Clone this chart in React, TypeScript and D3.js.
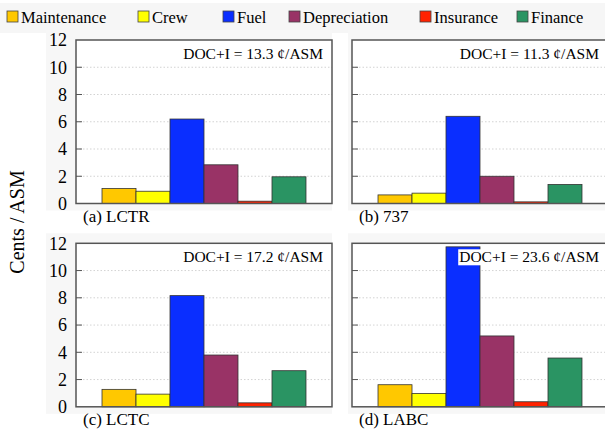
import { useEffect, useRef } from "react";
import * as d3 from "d3";

// categories and colours
const categories = ["Maintenance", "Crew", "Fuel", "Depreciation", "Insurance", "Finance"];
const colors = ["#FFC800", "#FFFF00", "#0A2EFF", "#993366", "#FF2200", "#2A9463"];

// values per panel (cents / ASM)
const lctr = [1.1, 0.9, 6.2, 2.84, 0.17, 1.96];
const b737 = [0.63, 0.76, 6.4, 2.0, 0.12, 1.4];
const lctc = [1.28, 0.93, 8.16, 3.8, 0.29, 2.65];
const labc = [1.62, 0.98, 11.74, 5.2, 0.37, 3.58];

const panelLabels = ["(a) LCTR", "(b) 737", "(c) LCTC", "(d) LABC"];
const docLabels = ["DOC+I = 13.3 ¢/ASM", "DOC+I = 11.3 ¢/ASM", "DOC+I = 17.2 ¢/ASM", "DOC+I = 23.6 ¢/ASM"];
const yTicks = [0, 2, 4, 6, 8, 10, 12];

const W = 605;
const H = 433;
const FONT = "'Liberation Serif', 'Times New Roman', serif";

export default function App() {
  const svgRef = useRef<SVGSVGElement | null>(null);

  useEffect(() => {
    const svg = d3.select(svgRef.current);
    svg.selectAll("*").remove();

    svg.append("rect").attr("width", W).attr("height", H).attr("fill", "#fff");

    // legend strip
    svg.append("rect").attr("x", 0).attr("y", 3).attr("width", W).attr("height", 30).attr("fill", "#f6f6f6");
    const legendX = [7, 138, 223, 289, 420, 517];
    categories.forEach((c, i) => {
      const g = svg.append("g").attr("transform", `translate(${legendX[i]},11)`);
      g.append("rect").attr("width", 11).attr("height", 11)
        .attr("fill", colors[i]).attr("stroke", "#444").attr("stroke-width", 0.8);
      g.append("text").attr("x", 14).attr("y", 11.5)
        .attr("font-family", FONT).attr("font-size", 16.5).attr("fill", "#000")
        .text(c);
    });

    const panelW = 256;
    const panelH = 163.5;
    const origins = [
      [76, 40],
      [352, 40],
      [76, 243.3],
      [352, 243.3],
    ];
    const datasets = [lctr, b737, lctc, labc];

    const x = d3.scaleBand<string>().domain(categories).range([0, panelW])
      .paddingInner(0).paddingOuter(0.765);
    const y = d3.scaleLinear().domain([0, 12]).range([panelH, 0]);

    datasets.forEach((vals, p) => {
      const [ox, oy] = origins[p];
      const showTicks = p % 2 === 0;

      // faint axes background
      svg.append("rect").attr("x", ox - (showTicks ? 30 : 4)).attr("y", oy - 10)
        .attr("width", panelW + (showTicks ? 30 : 4)).attr("height", panelH + 17)
        .attr("fill", "#f7f7f7");

      const g = svg.append("g").attr("transform", `translate(${ox},${oy})`);
      g.append("rect").attr("width", panelW).attr("height", panelH).attr("fill", "#fff");

      // grid
      g.append("g").selectAll("line").data(yTicks.filter((t) => t > 0 && t < 12)).join("line")
        .attr("x1", 0).attr("x2", panelW)
        .attr("y1", (d) => y(d)).attr("y2", (d) => y(d))
        .attr("stroke", "#c8c8c8").attr("stroke-width", 0.8).attr("stroke-dasharray", "1.5,2");

      // ticks (inward)
      g.append("g").selectAll("line").data(yTicks.filter((t) => t > 0 && t < 12)).join("line")
        .attr("x1", 0).attr("x2", 6)
        .attr("y1", (d) => y(d)).attr("y2", (d) => y(d))
        .attr("stroke", "#555").attr("stroke-width", 1);

      if (showTicks) {
        g.append("g").selectAll("text").data(yTicks).join("text")
          .attr("x", -9).attr("y", (d) => y(d)).attr("dy", "0.35em")
          .attr("text-anchor", "end").attr("font-family", FONT).attr("font-size", 18).attr("fill", "#000")
          .text((d) => d);
      }

      // bars
      g.append("g").selectAll("rect").data(vals).join("rect")
        .attr("x", (_, i) => x(categories[i]) as number)
        .attr("y", (d) => y(d))
        .attr("width", x.bandwidth())
        .attr("height", (d) => panelH - y(d))
        .attr("fill", (_, i) => colors[i])
        .attr("stroke", "#333").attr("stroke-width", 0.8);

      // DOC label with white box
      const box = g.append("rect").attr("fill", "#fff");
      const t = g.append("text")
        .attr("x", panelW - 9).attr("y", 19)
        .attr("text-anchor", "end").attr("font-family", FONT).attr("font-size", 15.5).attr("fill", "#000")
        .text(docLabels[p]);
      const bb = (t.node() as SVGTextElement).getBBox();
      box.attr("x", bb.x - 1).attr("y", bb.y + 1).attr("width", bb.width + 2).attr("height", bb.height - 1);

      // frame
      g.append("rect").attr("width", panelW).attr("height", panelH)
        .attr("fill", "none").attr("stroke", "#555").attr("stroke-width", 1.5);

      // panel label
      svg.append("text")
        .attr("x", ox + 7).attr("y", oy + panelH + 18.5)
        .attr("font-family", FONT).attr("font-size", 17).attr("fill", "#000")
        .text(panelLabels[p]);
    });

    // y label
    svg.append("text")
      .attr("transform", "translate(24,222) rotate(-90)")
      .attr("text-anchor", "middle").attr("font-family", FONT).attr("font-size", 20).attr("fill", "#000")
      .text("Cents / ASM");
  }, []);

  return (
    <svg ref={svgRef} width={W} height={H}
      style={{ position: "absolute", left: 0, top: 0, display: "block" }} />
  );
}
